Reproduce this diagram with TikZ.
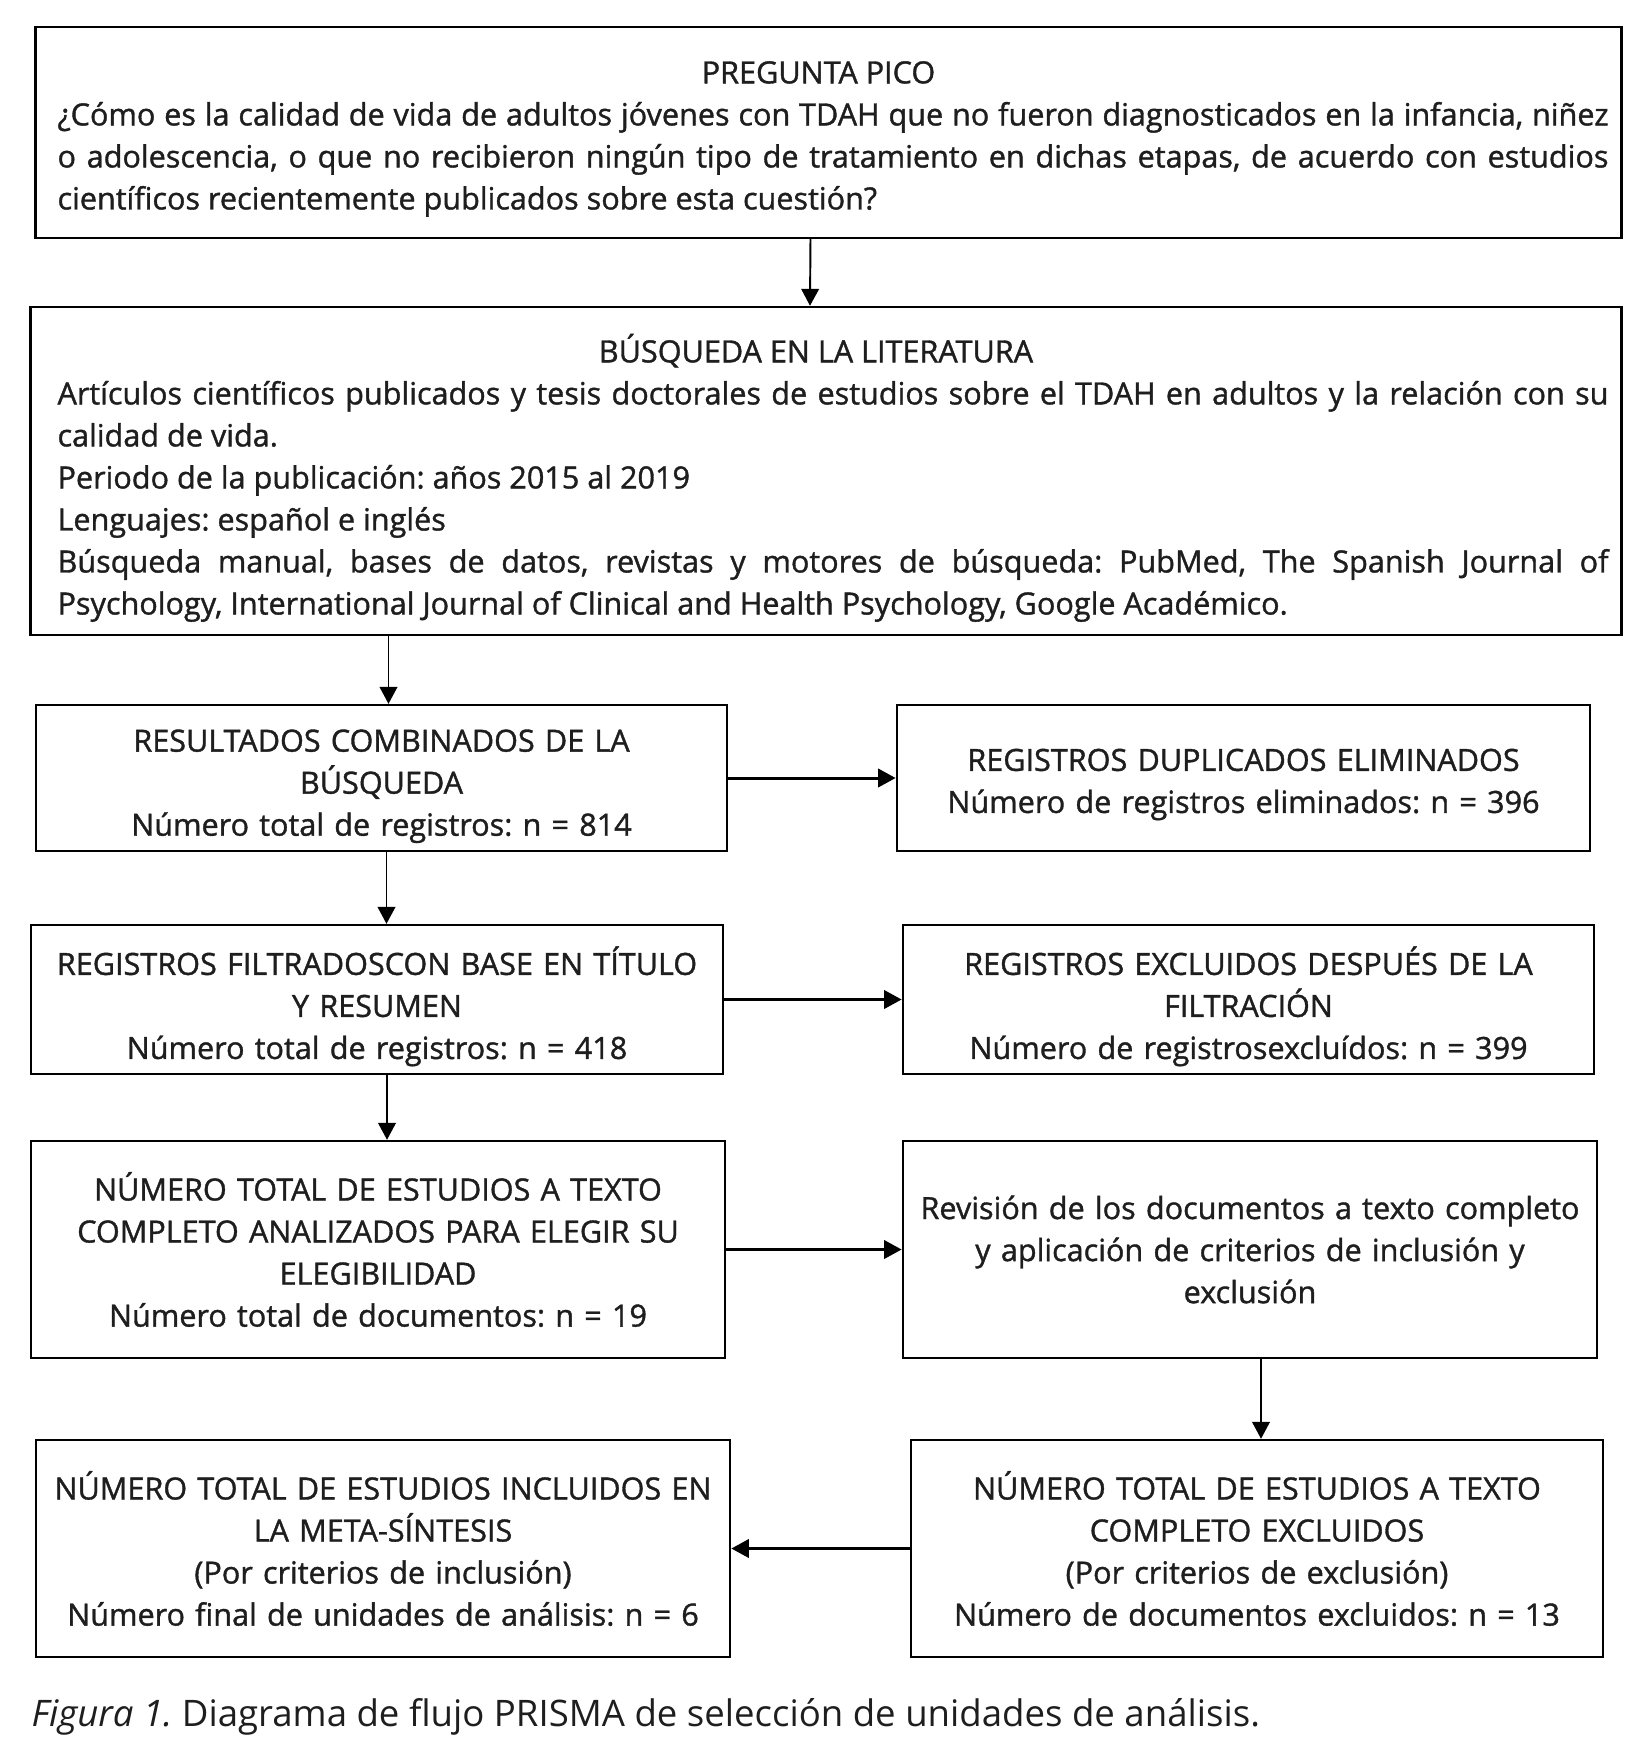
\documentclass[tikz,border=0pt]{standalone}
\usepackage{fontspec}
\setmainfont{Open Sans}
\newfontfamily\boxfont{Open Sans}[FakeBold=1.2]
\usetikzlibrary{arrows.meta}
\definecolor{ink}{HTML}{1E1E1E}

\tikzset{
  box/.style={draw=black, line width=0.65pt, inner sep=0pt, text=ink,
    font=\boxfont\fontsize{8.7}{11.95}\selectfont},
  smallbox/.style={box, align=center, text width=6.8cm},
  widebox/.style={box, align=justify},
  down/.style={-{Triangle[length=4.8pt,width=5pt]}, line width=0.55pt},
  side/.style={-{Triangle[length=5pt,width=5.2pt]}, line width=0.85pt}
}
\newcommand{\textdrop}[1]{\rule{0pt}{#1}}

\begin{document}
\frenchspacing
\begin{tikzpicture}[x=0.01cm,y=-0.01cm]
  \useasboundingbox (0,0) rectangle (1637,1763);
  \tolerance=9999 \hyphenpenalty=10000
  \node[widebox, text width=15.59cm, minimum width=15.85cm, minimum height=2.11cm] (pico) at (828.5,132.5)
    {\leftskip=0.09cm
     {\centering\textdrop{10pt}\hspace*{-0.2cm}PREGUNTA PICO\par}
     ¿Cómo es la calidad de vida de adultos jóvenes con TDAH que no fueron diagnosticados en la infancia, niñez\linebreak
     o adolescencia, o que no recibieron ningún tipo de tratamiento en dichas etapas, de acuerdo con estudios\linebreak
     científicos recientemente publicados sobre esta cuestión?\par};
  \node[widebox, text width=15.64cm, minimum width=15.9cm, minimum height=3.28cm] (lit) at (826,471)
    {\leftskip=0.14cm
     {\centering\textdrop{12pt}\hspace*{-0.2cm}BÚSQUEDA EN LA LITERATURA\par}
     Artículos científicos publicados y tesis doctorales de estudios sobre el TDAH en adultos y la relación con su\linebreak
     calidad de vida.\par
     Periodo de la publicación: años 2015 al 2019\par
     Lenguajes: español e inglés\par
     Búsqueda manual, bases de datos, revistas y motores de búsqueda: PubMed, The Spanish Journal of\linebreak
     Psychology, International Journal of Clinical and Health Psychology, Google Académico.\par};
  \node[smallbox, minimum width=6.91cm, minimum height=1.46cm] (comb) at (381.5,778)
    {\textdrop{11pt}RESULTADOS COMBINADOS DE LA\\ BÚSQUEDA\\ Número total de registros: n = 814};
  \node[smallbox, minimum width=6.93cm, minimum height=1.46cm] (dup) at (1243.5,778)
    {\textdrop{10pt}REGISTROS DUPLICADOS ELIMINADOS\\ Número de registros eliminados: n = 396};
  \node[smallbox, minimum width=6.92cm, minimum height=1.49cm] (filt) at (377,999.5)
    {\textdrop{12pt}REGISTROS FILTRADOSCON BASE EN TÍTULO\\ Y RESUMEN\\ Número total de registros: n = 418};
  \node[smallbox, minimum width=6.91cm, minimum height=1.49cm] (excl) at (1248.5,999.5)
    {\textdrop{12pt}REGISTROS EXCLUIDOS DESPUÉS DE LA\\ FILTRACIÓN\\ Número de registrosexcluídos: n = 399};
  \node[smallbox, minimum width=6.94cm, minimum height=2.17cm] (full) at (378,1249.5)
    {NÚMERO TOTAL DE ESTUDIOS A TEXTO\\ COMPLETO ANALIZADOS PARA ELEGIR SU\\ ELEGIBILIDAD\\ Número total de documentos: n = 19};
  \node[smallbox, minimum width=6.94cm, minimum height=2.17cm] (rev) at (1250,1249.5)
    {Revisión de los documentos a texto completo\\ y aplicación de criterios de inclusión y\\ exclusión};
  \node[smallbox, minimum width=6.94cm, minimum height=2.17cm] (incl) at (383,1548.5)
    {NÚMERO TOTAL DE ESTUDIOS INCLUIDOS EN\\ LA META-SÍNTESIS\\ (Por criterios de inclusión)\\ Número final de unidades de análisis: n = 6};
  \node[smallbox, minimum width=6.92cm, minimum height=2.17cm] (texcl) at (1257,1548.5)
    {NÚMERO TOTAL DE ESTUDIOS A TEXTO\\ COMPLETO EXCLUIDOS\\ (Por criterios de exclusión)\\ Número de documentos excluidos: n = 13};
  \node[anchor=base west, inner sep=0pt, text=ink, font=\fontsize{10.4}{13}\selectfont] (cap) at (31,1726)
    {\textit{Figura 1.} Diagrama de flujo PRISMA de selección de unidades de análisis.};

  \draw[down] ([xshift=-0.18cm]pico.south) -- ([xshift=-0.16cm]lit.north);
  \draw[down] ([xshift=0.07cm]lit.south -| comb.north) -- ([xshift=0.07cm]comb.north);
  \draw[down] ([xshift=0.05cm]comb.south) -- ([xshift=0.05cm]comb.south |- filt.north);
  \draw[down] ([xshift=0.1cm]filt.south) -- ([xshift=0.1cm]filt.south |- full.north);
  \draw[down] ([xshift=0.11cm]rev.south) -- ([xshift=0.11cm]rev.south |- texcl.north);
  \draw[side] (comb.east) -- (comb.east -| dup.west);
  \draw[side] (filt.east) -- (filt.east -| excl.west);
  \draw[side] (full.east) -- (full.east -| rev.west);
  \draw[side] (texcl.west) -- (texcl.west -| incl.east);
\end{tikzpicture}
\end{document}
